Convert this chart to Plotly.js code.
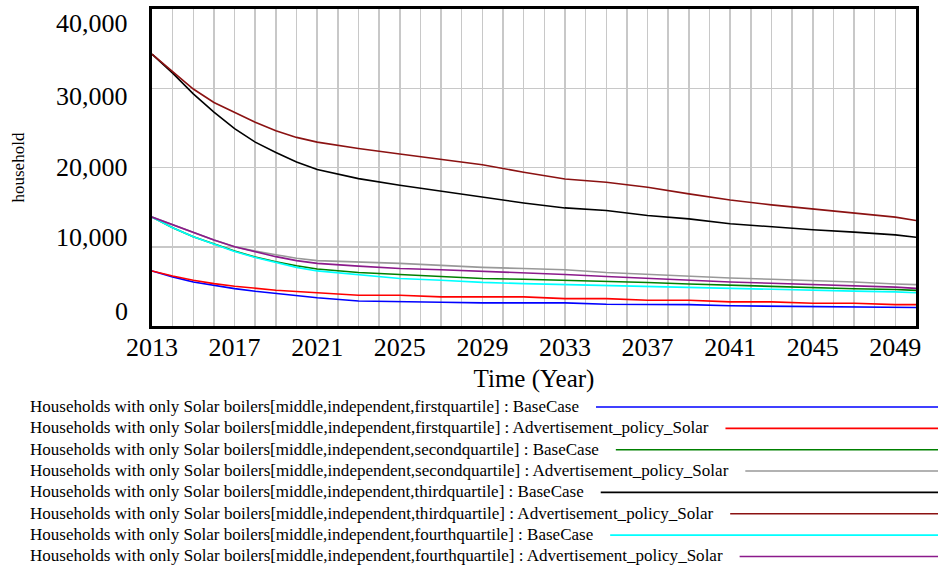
<!DOCTYPE html>
<html>
<head>
<meta charset="utf-8">
<script src="https://cdn.plot.ly/plotly-3.0.1.min.js"></script>
<style>html,body{margin:0;padding:0;background:#fff;} #chart{width:938px;height:566px;}</style>
</head>
<body>
<div id="chart"></div>
<script>
// ---------- data ----------
const years = [2013,2014,2015,2016,2017,2018,2019,2020,2021,2023,2025,2027,2029,2031,2033,2035,2037,2039,2041,2043,2045,2047,2049,2050];

const firstBase   = [6950,6200,5560,5100,4720,4380,4100,3800,3560,3150,3120,3000,2920,2920,2920,2750,2700,2700,2550,2490,2490,2350,2330,2330];
const firstAdv    = [6950,6300,5780,5350,5020,4750,4520,4350,4220,3880,3880,3670,3670,3670,3460,3460,3250,3250,3040,3040,2870,2870,2700,2700];
const secondBase  = [13740,12400,11250,10300,9450,8700,8100,7600,7200,6750,6500,6280,6000,5900,5780,5600,5480,5300,5150,4950,4800,4700,4600,4500];
const secondAdv   = [13740,12750,11800,10850,10000,9450,9000,8550,8250,8100,7900,7650,7400,7250,7100,6750,6500,6250,6050,5900,5750,5550,5300,5220];
const thirdBase   = [34300,31900,29300,27000,24900,23200,21900,20700,19750,18600,17750,17000,16250,15530,14900,14570,13950,13520,12900,12480,12150,11850,11500,11200];
const thirdAdv    = [34300,32150,29900,28200,26950,25700,24650,23800,23200,22400,21700,21050,20350,19400,18550,18130,17500,16670,15900,15280,14780,14280,13740,13310];
const fourthBase  = [13740,12400,11250,10300,9400,8650,8000,7400,6950,6500,6000,5780,5500,5350,5230,5100,4950,4800,4720,4600,4500,4400,4300,4200];
const fourthAdv   = [13740,12750,11800,10850,10000,9350,8750,8250,7900,7550,7250,7100,6900,6750,6500,6250,6000,5750,5550,5400,5250,5050,4900,4750];

const seriesNames = [
  "Households with only Solar boilers[middle,independent,firstquartile] : BaseCase",
  "Households with only Solar boilers[middle,independent,firstquartile] : Advertisement_policy_Solar",
  "Households with only Solar boilers[middle,independent,secondquartile] : BaseCase",
  "Households with only Solar boilers[middle,independent,secondquartile] : Advertisement_policy_Solar",
  "Households with only Solar boilers[middle,independent,thirdquartile] : BaseCase",
  "Households with only Solar boilers[middle,independent,thirdquartile] : Advertisement_policy_Solar",
  "Households with only Solar boilers[middle,independent,fourthquartile] : BaseCase",
  "Households with only Solar boilers[middle,independent,fourthquartile] : Advertisement_policy_Solar"
];
const seriesValues = [firstBase, firstAdv, secondBase, secondAdv, thirdBase, thirdAdv, fourthBase, fourthAdv];
const seriesColors = ["#0000ff","#ff0000","#008000","#999999","#000000","#8b1212","#00ffff","#8b1a8b"];

const yTickVals = [0,10000,20000,30000,40000];
const yTickText = ["0","10,000","20,000","30,000","40,000"];
const yTickShift = [15,9,0,-8,-14];
const xTickVals = [2013,2017,2021,2025,2029,2033,2037,2041,2045,2049];

// ---------- layout geometry ----------
const W = 938, H = 566;
const M = {l:152, r:22, t:9, b:240};
const plotW = W - M.l - M.r, plotH = H - M.t - M.b;
const serif = "'Liberation Serif','Times New Roman',serif";

const traces = seriesValues.map((v,i)=>({
  x: years, y: v, type:'scatter', mode:'lines', name: seriesNames[i],
  line:{color: seriesColors[i], width:1.6}, showlegend:false, hoverinfo:'skip'
}));

// legend geometry
const legendLeft = 30, legendTop = 407, legendStep = 21.35, legendFont = 16;
const targetFirstWidth = 549; // px width of first legend text
const legendGap = 17;
const cv = document.createElement('canvas').getContext('2d');
cv.font = legendFont + "px 'Liberation Serif'";
const natural = seriesNames.map(s => cv.measureText(s).width);
const squeeze = targetFirstWidth / natural[0];

const annotations = [];
yTickVals.forEach((v,i)=>{
  annotations.push({xref:'paper', yref:'y', x:0, y:v, xanchor:'right', yanchor:'middle',
    xshift:-24, yshift:yTickShift[i], text:yTickText[i], showarrow:false,
    font:{family:serif, size:26, color:'#000'}, borderpad:0, borderwidth:0});
});
annotations.push({xref:'paper', yref:'paper', x:0, y:0.5, xanchor:'center', yanchor:'middle',
  xshift:-(M.l-18), text:'household', textangle:-90, showarrow:false,
  font:{family:serif, size:17, color:'#000'}});
const shapes = [];
seriesNames.forEach((s,i)=>{
  const cy = legendTop + i*legendStep;
  annotations.push({xref:'paper', yref:'paper', x:0, y:0, xanchor:'left', yanchor:'middle', align:'left',
    xshift: legendLeft - M.l, yshift: -(cy - (M.t+plotH)), text:s, showarrow:false,
    font:{family:serif, size:legendFont, color:'#000'}, borderpad:0, borderwidth:0});
  const lineStart = legendLeft + natural[i]*squeeze + legendGap;
  const py = -(cy - (M.t+plotH)) / plotH;
  shapes.push({type:'line', xref:'paper', yref:'paper',
    x0:(lineStart - M.l)/plotW, x1:(W - M.l)/plotW, y0:py, y1:py,
    line:{color:seriesColors[i], width:1.6}});
});

const layout = {
  width:W, height:H, margin:M, paper_bgcolor:'#fff', plot_bgcolor:'#fff',
  showlegend:false,
  font:{family:serif, color:'#000'},
  xaxis:{range:[2013,2050], tickvals:xTickVals, ticktext:xTickVals.map(String),
    tickfont:{family:serif, size:26, color:'#000'}, ticks:'', ticklabelstandoff:-4,
    showgrid:true, gridcolor:'#c8c8c8', gridwidth:1.5,
    minor:{dtick:1, tick0:2013, showgrid:true, gridcolor:'#c8c8c8', gridwidth:1.5},
    showline:true, linecolor:'#000', linewidth:3, mirror:true, zeroline:false,
    title:{text:'Time (Year)', font:{family:serif, size:25, color:'#000'}, standoff:9}},
  yaxis:{range:[0,40000], tickvals:yTickVals, showticklabels:false, ticks:'',
    showgrid:true, gridcolor:'#c8c8c8', gridwidth:1.5,
    showline:true, linecolor:'#000', linewidth:3, mirror:true, zeroline:false},
  annotations: annotations,
  shapes: shapes
};

Plotly.newPlot('chart', traces, layout, {staticPlot:true, displayModeBar:false}).then(()=>{
  document.querySelectorAll('.annotation-text').forEach(t=>{
    const idx = seriesNames.indexOf(t.textContent);
    if(idx >= 0){
      t.setAttribute('textLength', (natural[idx]*squeeze).toFixed(1));
      t.setAttribute('lengthAdjust', 'spacingAndGlyphs');
    }
  });
});
</script>
</body>
</html>
